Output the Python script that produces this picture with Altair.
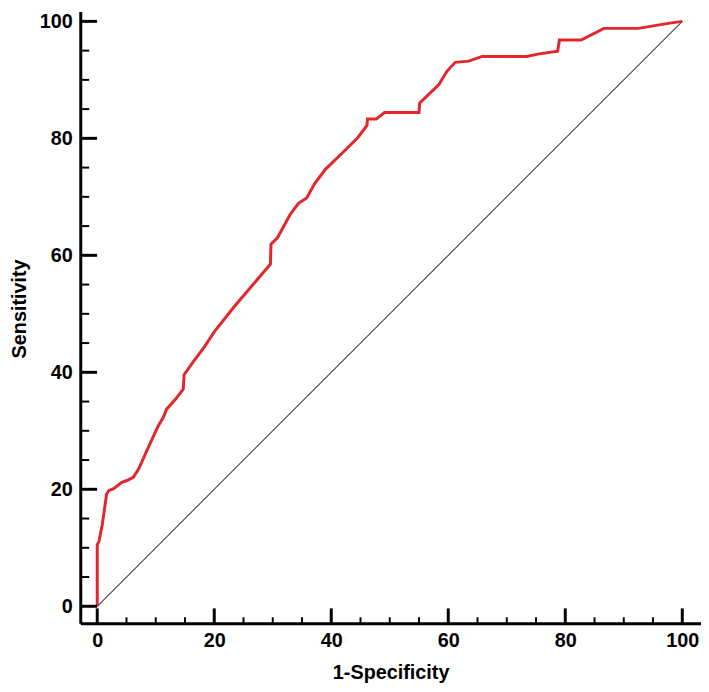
import altair as alt
import pandas as pd

# ROC curve points (1-Specificity %, Sensitivity %)
fpr = [0, 0, 0.3, 0.85, 1.1, 1.6, 2.0, 2.8, 4.2, 5.1, 6.2, 7.1, 8.75, 10.4, 11.3,
       11.85, 13.3, 14.7, 14.85, 16.4, 18.35, 20.0, 23.4, 26.2, 29.6, 29.7, 30.8,
       33.0, 34.4, 35.8, 37.2, 39.0, 41.8, 44.6, 46.1, 46.2, 47.7, 49.1, 55.0, 55.1,
       58.4, 59.8, 61.2, 63.5, 65.8, 73.4, 75.3, 78.7, 79.0, 82.7, 86.6, 92.5, 97.9, 100]
tpr = [0, 10.5, 11.1, 13.9, 15.6, 19.2, 19.8, 20.1, 21.2, 21.5, 22.1, 23.5, 27.2, 30.8, 32.3,
       33.7, 35.3, 37.1, 39.6, 41.8, 44.4, 46.9, 51.2, 54.5, 58.5, 61.9, 63.0,
       67.0, 68.9, 69.8, 72.3, 74.7, 77.4, 80.2, 82.2, 83.3, 83.3, 84.4, 84.4, 86.0,
       89.2, 91.5, 93.0, 93.2, 94.0, 94.0, 94.4, 94.9, 96.8, 96.8, 98.8, 98.8, 99.7, 100]

diag_x = [0, 100]
diag_y = [0, 100]

major_ticks = [0, 20, 40, 60, 80, 100]
minor_ticks = [5, 10, 15, 25, 30, 35, 45, 50, 55, 65, 70, 75, 85, 90, 95]

X_DOMAIN = [-2.9, 103.2]
Y_DOMAIN = [-2.9, 101.7]
W = 627
H = 618
FONT = "Liberation Sans"

roc = pd.DataFrame({"x": fpr, "y": tpr, "order": list(range(len(fpr)))})
diag = pd.DataFrame({"x": diag_x, "y": diag_y})
maj = pd.DataFrame({"v": major_ticks})
mnr = pd.DataFrame({"v": minor_ticks})

xscale = alt.Scale(domain=X_DOMAIN, nice=False, zero=False)
yscale = alt.Scale(domain=Y_DOMAIN, nice=False, zero=False)

axis_common = dict(
    values=major_ticks, grid=False, ticks=False, domain=True,
    domainColor="black", domainWidth=3,
    labelFont=FONT, labelFontSize=20, labelFontWeight="bold", labelColor="black",
    labelFlush=False, labelOverlap=False, labelPadding=8,
    titleFont=FONT, titleFontSize=20, titleFontWeight="bold", titleColor="black",
)

diag_layer = alt.Chart(diag).mark_line(color="#444444", strokeWidth=1.1).encode(
    x=alt.X("x:Q", scale=xscale, title="1-Specificity",
            axis=alt.Axis(orient="bottom", titlePadding=12, **axis_common)),
    y=alt.Y("y:Q", scale=yscale, title="Sensitivity",
            axis=alt.Axis(orient="left", titlePadding=10, titleY=300, **axis_common)),
)

roc_layer = alt.Chart(roc).mark_line(color="#e3262b", strokeWidth=3).encode(
    x=alt.X("x:Q", scale=xscale),
    y=alt.Y("y:Q", scale=yscale),
    order="order:Q",
)

y_major = alt.Chart(maj).mark_rule(color="black", strokeWidth=3).encode(
    y=alt.Y("v:Q", scale=yscale), x=alt.value(0), x2=alt.value(17))
y_minor = alt.Chart(mnr).mark_rule(color="black", strokeWidth=2).encode(
    y=alt.Y("v:Q", scale=yscale), x=alt.value(0), x2=alt.value(9))
x_major = alt.Chart(maj).mark_rule(color="black", strokeWidth=3).encode(
    x=alt.X("v:Q", scale=xscale), y=alt.value(H), y2=alt.value(H - 15))
x_minor = alt.Chart(mnr).mark_rule(color="black", strokeWidth=2).encode(
    x=alt.X("v:Q", scale=xscale), y=alt.value(H), y2=alt.value(H - 6))

chart = alt.layer(diag_layer, roc_layer, y_major, y_minor, x_major, x_minor).properties(
    width=W, height=H,
    autosize=alt.AutoSizeParams(type="none"),
    padding={"left": 73, "top": 0, "right": 0, "bottom": 66},
    background="white",
).configure_view(stroke=None)

chart.save("out.html", embed_options={"renderer": "svg", "actions": False})
